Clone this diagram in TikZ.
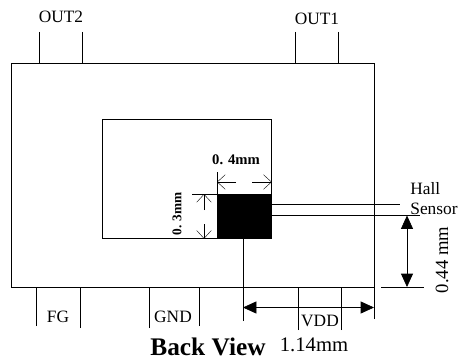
\documentclass[tikz,border=0pt]{standalone}
\usepackage{fontspec}
\usepackage{tikz}
\usetikzlibrary{arrows.meta}
\setmainfont{Liberation Serif}
\tikzset{
  box/.style = {draw, inner sep = 0pt, anchor = north west},
  pinlabel/.style = {inner sep = 0pt, font = \fontsize{13pt}{15pt}\selectfont},
  dimlabel/.style = {inner sep = 0pt, font = \bfseries\fontsize{11pt}{13pt}\selectfont},
  largelabel/.style = {inner sep = 0pt, font = \fontsize{15.5pt}{17pt}\selectfont},
  openarrow/.style = {-{Straight Barb[length=6pt,width=11pt]}, line width = .3pt},
  solidarrow/.style = {{Triangle[length=10pt,width=9pt]}-{Triangle[length=10pt,width=9pt]}, line width = .5pt}
}
\begin{document}
\begin{tikzpicture}[x = .75pt, y = -.75pt, line width = .55pt]
        \useasboundingbox (0,0) rectangle (461,360);
        \node[box, minimum width = 272.25pt, minimum height = 167.25pt] (outer) at (11,63.5) {};
        \node[box, minimum width = 126.75pt, minimum height = 89.25pt] (inner) at (102,119) {};
        \node[box, fill = black, minimum width = 40.5pt, minimum height = 33pt] (sensor) at (217,194) {};
        % pins
        \coordinate (out2a) at (39,32);
        \coordinate (out2b) at (82,32);
        \coordinate (out1a) at (295.5,32);
        \coordinate (out1b) at (338.5,32);
        \coordinate (fga) at (36,326);
        \coordinate (fgb) at (80,328);
        \coordinate (gnda) at (149,328);
        \coordinate (gndb) at (199,326);
        \coordinate (vdda) at (298.5,330);
        \coordinate (vddb) at (341,330);
        \coordinate (dimleft) at (243,321);
        \coordinate (dimright) at (374,319);
        \draw (out2a) -- (out2a |- outer.north);
        \draw (out2b) -- (out2b |- outer.north);
        \draw (out1a) -- (out1a |- outer.north);
        \draw (out1b) -- (out1b |- outer.north);
        \draw (fga) -- (fga |- outer.south);
        \draw (fgb) -- (fgb |- outer.south);
        \draw (gnda) -- (gnda |- outer.south);
        \draw (gndb) -- (gndb |- outer.south);
        \draw (vdda) -- (vdda |- outer.south);
        \draw (vddb) -- (vddb |- outer.south);
        \draw (dimleft) -- (dimleft |- sensor.south);
        \draw (dimright) -- (dimright |- outer.south);
        % pin labels
        \node[pinlabel] (out2) at (61,17) {OUT2};
        \node[pinlabel] (out1) at (317,19) {OUT1};
        \node[pinlabel] (fg) at (58,317) {FG};
        \node[pinlabel] (gnd) at (173,317) {GND};
        \node[pinlabel] (vdd) at (320,321) {VDD};
        \node[inner sep = 0pt, font = \bfseries\fontsize{19pt}{21pt}\selectfont] (title) at (208,347) {Back View};
        \node[largelabel] (width) at (314,345) {1.14mm};
        % lines to the sensor label
        \coordinate (halla) at (400,204.5);
        \coordinate (hallb) at (420,215.5);
        \draw (sensor.east |- halla) -- (halla);
        \draw (sensor.east |- hallb) -- (hallb);
        \node[pinlabel, anchor = west] (hall) at (410,189) {Hall};
        \node[pinlabel, anchor = west] (hallsensor) at (410,208.5) {Sensor};
        % dimensions
        \coordinate (toptick) at (217,172);
        \coordinate (sidetick) at (192,194);
        \coordinate (wa) at (236,182);
        \coordinate (wb) at (252,182);
        \coordinate (ha) at (204,210);
        \coordinate (hb) at (204,224);
        \coordinate (widtha) at (243,307.5);
        \coordinate (widthb) at (374,307.5);
        \coordinate (gapa) at (381,287);
        \coordinate (gapb) at (424,287);
        \coordinate (gaptop) at (407,215.5);
        \coordinate (gapend) at (407,287);
        \draw (toptick) -- (sensor.north west);
        \draw (sidetick) -- (sensor.north west);
        \draw[openarrow] (wa) -- (wa -| sensor.north west);
        \draw[openarrow] (wb) -- (wb -| sensor.north east);
        \draw[openarrow] (ha) -- (ha |- sensor.north);
        \draw[openarrow] (hb) -- (hb |- sensor.south);
        \node[dimlabel] (wlabel) at (236,160) {0. 4mm};
        \node[dimlabel, rotate = 90, font = \bfseries\fontsize{10pt}{12pt}\selectfont] (hlabel) at (177,214) {0. 3mm};
        \draw[solidarrow] (widtha) -- (widthb);
        \draw (gapa) -- (gapb);
        \draw[solidarrow] (gaptop) -- (gapend);
        \node[largelabel, font = \fontsize{14pt}{16pt}\selectfont, rotate = 90] (gap) at (442,260) {0.44 mm};
      \end{tikzpicture}
\end{document}
